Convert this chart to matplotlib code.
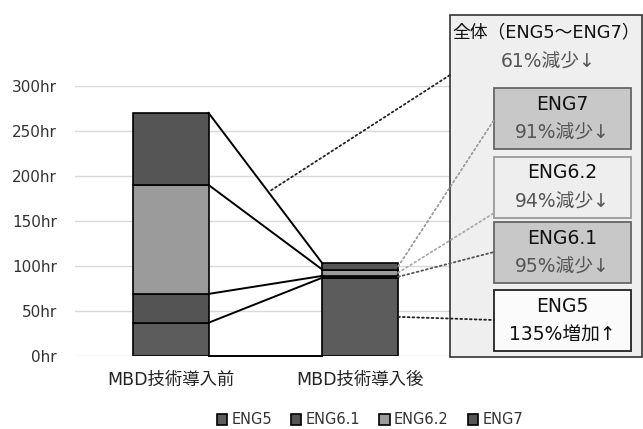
import numpy as np
import matplotlib
matplotlib.use("Agg")
import matplotlib.pyplot as plt
from matplotlib.patches import Rectangle, ConnectionPatch

plt.rcParams["font.family"] = ["DejaVu Sans", "Noto Sans CJK JP"]

categories = ["MBD技術導入前", "MBD技術導入後"]
series = ["ENG5", "ENG6.1", "ENG6.2", "ENG7"]
before = [37, 32, 121, 80]
after = [87, 2, 7, 7]
colors = ["#5c5c5c", "#545454", "#9b9b9b", "#555555"]
yticks = [0, 50, 100, 150, 200, 250, 300]
ytick_labels = ["0hr", "50hr", "100hr", "150hr", "200hr", "250hr", "300hr"]

total_title = "全体（ENG5〜ENG7）"
total_change = "61%減少↓"
box_labels = ["ENG7", "ENG6.2", "ENG6.1", "ENG5"]
box_changes = ["91%減少↓", "94%減少↓", "95%減少↓", "135%増加↑"]

W, H = 643, 429


def px(x, y):
    # pixel position (top-left origin) -> figure fraction
    return (x / W, 1 - y / H)


fig = plt.figure(figsize=(W / 100, H / 100), dpi=100)
ax = fig.add_axes([75 / W, 1 - 356 / H, 380 / W, 270 / H])

x = np.arange(len(categories))
width = 0.4
values = np.array([before, after]).T
bottoms = np.zeros(len(categories))
for name, vals, c in zip(series, values, colors):
    ax.bar(x, vals, width, bottom=bottoms, color=c, edgecolor="black",
           linewidth=1.2, label=name, zorder=3)
    bottoms += vals

ax.set_ylim(0, 300)
ax.set_xlim(-0.505, 1.5)
ax.set_yticks(yticks)
ax.set_yticklabels(ytick_labels, fontsize=11, color="#333333")
ax.set_xticks(x)
ax.set_xticklabels(categories, fontsize=12.5, color="#222222")
ax.tick_params(axis="x", length=0, pad=11)
ax.tick_params(axis="y", length=0, pad=13)
ax.yaxis.grid(True, color="#d9d9d9", linewidth=1, zorder=0)
for s in ax.spines.values():
    s.set_visible(False)

# solid connectors between segment boundaries of the two bars
cum_before = np.concatenate([[0], np.cumsum(before)])
cum_after = np.concatenate([[0], np.cumsum(after)])
x1 = x[0] + width / 2
x2 = x[1] - width / 2
for yb, ya in zip(cum_before, cum_after):
    ax.plot([x1, x2], [yb, ya], color="black", linewidth=1.4, zorder=4, clip_on=False)

# outer summary box
ox0, oy0 = px(450, 357)
ox1, oy1 = px(642, 15)
fig.add_artist(Rectangle((ox0, oy0), ox1 - ox0, oy1 - oy0, transform=fig.transFigure,
                         facecolor="#efefef", edgecolor="#333333", linewidth=1.2, zorder=5))
fig.text(*px(546, 32), total_title, fontsize=12.8, ha="center", va="center",
         color="#111111", zorder=6)
fig.text(*px(548, 62), total_change, fontsize=13.5, ha="center", va="center",
         color="#555555", zorder=6)

# per-series boxes
box_tops = [88, 157, 222, 290]
box_fill = ["#c8c8c8", "#eeeeee", "#c8c8c8", "#fbfbfb"]
box_edge = ["#666666", "#999999", "#666666", "#222222"]
text_col = ["#555555", "#555555", "#555555", "#111111"]
for top, lab, chg, fc, ec, tc in zip(box_tops, box_labels, box_changes,
                                     box_fill, box_edge, text_col):
    bx0, by0 = px(494, top + 61)
    bx1, by1 = px(631, top)
    fig.add_artist(Rectangle((bx0, by0), bx1 - bx0, by1 - by0, transform=fig.transFigure,
                             facecolor=fc, edgecolor=ec, linewidth=1.3, zorder=6))
    fig.text(*px(562.5, top + 16), lab, fontsize=13.5, ha="center", va="center",
             color="#111111", zorder=7)
    fig.text(*px(562.5, top + 45), chg, fontsize=13.5, ha="center", va="center",
             color=tc, zorder=7)


def pointer(start, end_px, color):
    con = ConnectionPatch(xyA=start, coordsA=ax.transData,
                          xyB=px(*end_px), coordsB=fig.transFigure,
                          linestyle=":", color=color, linewidth=1.3, zorder=8)
    fig.add_artist(con)


# dotted pointers from the chart to the boxes
t = 0.55
px_total = x1 + t * (x2 - x1)
py_total = cum_before[-1] + t * (cum_after[-1] - cum_before[-1]) + 6
pointer((px_total, py_total), (450, 75), "#222222")

x_right = x[1] + width / 2
mids = (cum_after[:-1] + cum_after[1:]) / 2
targets = {"ENG7": 120, "ENG6.2": 213, "ENG6.1": 252, "ENG5": 320}
line_cols = {"ENG7": "#9a9a9a", "ENG6.2": "#aaaaaa", "ENG6.1": "#555555", "ENG5": "#222222"}
for name, m in zip(series, mids):
    pointer((x_right, m), (494, targets[name]), line_cols[name])

fig.legend(*ax.get_legend_handles_labels(), loc="center", bbox_to_anchor=px(370, 420),
           ncol=4, frameon=False, fontsize=10.5, handlelength=0.7, handleheight=0.7,
           handletextpad=0.3, columnspacing=1.3, labelcolor="#333333")

fig.savefig("out.png", dpi=100)
